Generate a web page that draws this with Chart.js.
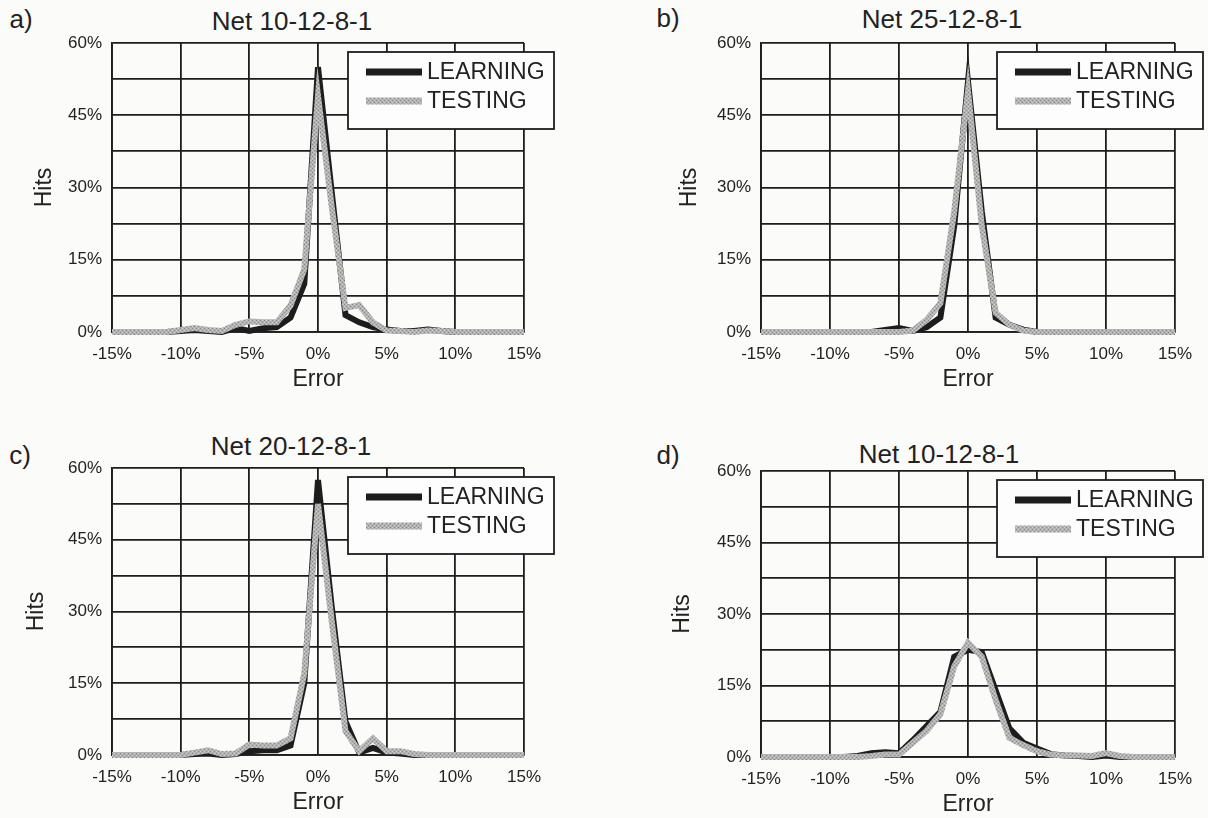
<!DOCTYPE html>
<html>
<head>
<meta charset="utf-8">
<script src="https://cdn.jsdelivr.net/npm/chart.js@4.4.1/dist/chart.umd.min.js"></script>
<style>
body { margin: 0; background: #fbfbfa; width: 1208px; height: 818px; position: relative; overflow: hidden;
       font-family: 'Liberation Sans', Arial, sans-serif; color: #222; }
canvas { position: absolute; }
.lbl { position: absolute; font-size: 26px; line-height: 26px; white-space: nowrap; transform: translate(-50%, -50%); }
</style>
</head>
<body>
<div class="lbl" style="left:21px;top:19px">a)</div>
<div class="lbl" style="left:292px;top:21px">Net 10-12-8-1</div>
<div class="lbl" style="left:668px;top:18px">b)</div>
<div class="lbl" style="left:942px;top:19px">Net 25-12-8-1</div>
<div class="lbl" style="left:20px;top:455px">c)</div>
<div class="lbl" style="left:291px;top:446px">Net 20-12-8-1</div>
<div class="lbl" style="left:668px;top:455px">d)</div>
<div class="lbl" style="left:939px;top:454px">Net 10-12-8-1</div>

<canvas id="chartA" width="604" height="409" style="left:0;top:0"></canvas>
<canvas id="chartB" width="604" height="409" style="left:604px;top:0"></canvas>
<canvas id="chartC" width="604" height="409" style="left:0;top:409px"></canvas>
<canvas id="chartD" width="604" height="409" style="left:604px;top:409px"></canvas>

<script>
// error bins (%), one point per 1%
let errorBins = [-15, -14, -13, -12, -11, -10, -9, -8, -7, -6, -5, -4, -3, -2, -1, 0, 1, 2, 3, 4, 5, 6, 7, 8, 9, 10, 11, 12, 13, 14, 15];
let yTicks = [0, 15, 30, 45, 60];
let seriesNames = ['LEARNING', 'TESTING'];

// a) Net 10-12-8-1
let learnA = [0, 0, 0, 0, 0, 0.2, 0.4, 0.2, 0, 0.8, 0.2, 0.8, 1, 3, 10, 55, 29, 3.5, 2, 1, 0.5, 0.2, 0.2, 0.5, 0.2, 0, 0, 0, 0, 0, 0];
let testA  = [0, 0, 0, 0, 0, 0.4, 0.8, 0.4, 0.2, 1.5, 2.2, 2, 2, 5.5, 13, 49, 26, 5, 5.6, 2, 0.3, 0.2, 0, 0.3, 0.2, 0, 0, 0, 0, 0, 0];
// b) Net 25-12-8-1
let learnB = [0, 0, 0, 0, 0, 0, 0, 0, 0, 0.4, 0.8, 0.2, 1, 3, 22, 52, 25, 3, 1.5, 0.5, 0, 0, 0, 0, 0, 0, 0, 0, 0, 0, 0];
let testB  = [0, 0, 0, 0, 0, 0, 0, 0, 0, 0, 0, 0.3, 2.5, 6, 25, 50, 22, 4, 1.5, 0.3, 0, 0, 0, 0, 0, 0, 0, 0, 0, 0, 0];
// c) Net 20-12-8-1
let learnC = [0, 0, 0, 0, 0, 0, 0.2, 0.3, 0, 0.2, 0.8, 1, 1, 2, 15, 57.5, 31, 7, 0.5, 1.5, 0.5, 0.3, 0, 0, 0, 0, 0, 0, 0, 0, 0];
let testC  = [0, 0, 0, 0, 0, 0, 0.5, 1, 0.2, 0.3, 2.2, 2, 2, 3.5, 17, 52.5, 28, 5, 0.8, 3.5, 0.8, 0.8, 0.2, 0, 0, 0, 0, 0, 0, 0, 0];
// d) Net 10-12-8-1
let learnD = [0, 0, 0, 0, 0, 0, 0, 0.2, 0.8, 1, 0.8, 3.5, 6.5, 9.5, 21, 22.5, 22, 14, 6, 3, 1.8, 0.6, 0.3, 0.2, 0, 0.3, 0, 0, 0, 0, 0];
let testD  = [0, 0, 0, 0, 0, 0, 0, 0, 0.2, 0.5, 0.5, 3, 5.5, 9, 19, 24, 21, 12, 4, 2.5, 1.2, 0.5, 0.3, 0.3, 0.2, 0.8, 0.2, 0, 0, 0, 0];

// halftone-ish gray for the TESTING line
function grayPattern() {
    let c = document.createElement('canvas');
    c.width = 4; c.height = 4;
    let g = c.getContext('2d');
    g.fillStyle = '#b3b3b3';
    g.fillRect(0, 0, 4, 4);
    g.fillStyle = '#868686';
    g.fillRect(0, 0, 1, 1);
    g.fillRect(2, 2, 1, 1);
    g.fillStyle = '#cecece';
    g.fillRect(2, 0, 1, 1);
    g.fillRect(0, 2, 1, 1);
    return g.createPattern(c, 'repeat');
}
let testColor = grayPattern();
let learnColor = '#1d1d1d';
let font = "'Liberation Sans', Arial, sans-serif";

// legend box drawn inside the plot, overlapping the right edge
const boxLegend = {
    id: 'boxLegend',
    afterDraw(chart) {
        let ctx = chart.ctx;
        let a = chart.chartArea;
        let x = a.left + 236, y = a.top + 9, w = 206, h = 77;
        ctx.save();
        ctx.fillStyle = '#fdfdfd';
        ctx.fillRect(x, y, w, h);
        ctx.strokeStyle = '#1d1d1d';
        ctx.lineWidth = 1.8;
        ctx.strokeRect(x, y, w, h);
        ctx.font = '23px ' + font;
        ctx.textBaseline = 'middle';
        chart.data.datasets.forEach((ds, i) => {
            let ly = y + 20 + i * 29;
            ctx.strokeStyle = ds.borderColor;
            ctx.lineWidth = 7;
            ctx.beginPath();
            ctx.moveTo(x + 18, ly);
            ctx.lineTo(x + 74, ly);
            ctx.stroke();
            ctx.fillStyle = '#222';
            ctx.fillText(ds.label, x + 79, ly + 1);
        });
        ctx.restore();
    }
};

function makeChart(id, learn, test, box) {
    let ctx = document.getElementById(id).getContext('2d');
    return new Chart(ctx, {
        type: 'line',
        data: {
            labels: errorBins,
            datasets: [{
                label: seriesNames[0],
                data: learn,
                borderColor: learnColor,
                borderWidth: 6,
                order: 1
            }, {
                label: seriesNames[1],
                data: test,
                borderColor: testColor,
                borderWidth: 6,
                order: 0
            }]
        },
        options: {
            responsive: false,
            animation: false,
            events: [],
            elements: {
                point: { radius: 0 },
                line: { tension: 0, borderJoinStyle: 'miter' }
            },
            datasets: { line: { clip: false } },
            layout: { padding: { left: 0, right: 604 - box.right, top: box.top, bottom: 0 } },
            plugins: { legend: { display: false }, tooltip: { enabled: false } },
            scales: {
                x: {
                    type: 'linear',
                    min: -15, max: 15,
                    afterFit: (s) => { s.height = 409 - box.bottom; },
                    ticks: {
                        stepSize: 5,
                        padding: 12,
                        color: '#222',
                        maxRotation: 0,
                        font: { family: font, size: 17 },
                        callback: (v) => v + '%'
                    },
                    grid: { color: '#1d1d1d', lineWidth: 1.8, drawTicks: false },
                    border: { color: '#1d1d1d', width: 1.8 },
                    title: {
                        display: true, text: 'Error', color: '#222',
                        font: { family: font, size: 23 },
                        padding: { top: 0, bottom: 409 - box.errorY - 13.8 }
                    }
                },
                y: {
                    min: 0, max: 60,
                    afterFit: (s) => { s.width = box.left; },
                    ticks: {
                        stepSize: 7.5,
                        padding: 10,
                        color: '#222',
                        font: { family: font, size: 17 },
                        callback: (v) => yTicks.includes(v) ? v + '%' : ''
                    },
                    grid: { color: '#1d1d1d', lineWidth: 1.8, drawTicks: false },
                    border: { color: '#1d1d1d', width: 1.8 },
                    title: {
                        display: true, text: 'Hits', color: '#222',
                        font: { family: font, size: 23 },
                        padding: { top: box.hitsX - 13.8, bottom: 0 }
                    }
                }
            }
        },
        plugins: [boxLegend]
    });
}

makeChart('chartA', learnA, testA, { left: 112, right: 524, top: 43, bottom: 332, hitsX: 45, errorY: 380 });
makeChart('chartB', learnB, testB, { left: 157, right: 571, top: 43, bottom: 332, hitsX: 86, errorY: 380 });
makeChart('chartC', learnC, testC, { left: 112, right: 524, top: 59, bottom: 346, hitsX: 37, errorY: 394 });
makeChart('chartD', learnD, testD, { left: 157, right: 571, top: 62, bottom: 348, hitsX: 79, errorY: 396 });
</script>
</body>
</html>
